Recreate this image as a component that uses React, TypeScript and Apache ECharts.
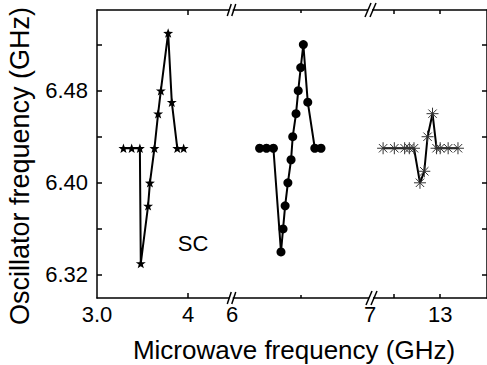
import React, { useEffect, useRef } from "react";
import * as echarts from "echarts";

// ---- data ----
const starX = [3.29, 3.38, 3.47, 3.48, 3.56, 3.58, 3.63, 3.67, 3.70, 3.78, 3.82, 3.88, 3.95];
const starY = [6.43, 6.43, 6.43, 6.33, 6.38, 6.40, 6.43, 6.46, 6.48, 6.53, 6.47, 6.43, 6.43];

const circleX = [6.20, 6.25, 6.30, 6.355, 6.37, 6.385, 6.405, 6.428, 6.44, 6.464, 6.48, 6.498, 6.517, 6.549, 6.60, 6.645];
const circleY = [6.43, 6.43, 6.43, 6.34, 6.36, 6.38, 6.40, 6.42, 6.44, 6.46, 6.48, 6.50, 6.52, 6.47, 6.43, 6.43];

const asterX = [12.39, 12.51, 12.62, 12.67, 12.72, 12.784, 12.83, 12.865, 12.918, 12.961, 13.0, 13.085, 13.19];
const asterY = [6.43, 6.43, 6.43, 6.43, 6.43, 6.40, 6.41, 6.44, 6.46, 6.43, 6.43, 6.43, 6.43];

const seg1Range = [3.0, 4.48];
const seg2Range = [6.0, 7.0];
const seg3Range = [12.25, 13.5];
const seg1Ticks = [4];
const seg1Labels = [3.0, 4];
const seg2Ticks = [6.5];
const seg2Labels = [6, 7];
const seg3Ticks = [12.5, 13];
const seg3Labels = [13];

const yRange = [6.30, 6.55];
const yTicks = [6.32, 6.36, 6.40, 6.44, 6.48, 6.52];
const yLabels = [6.32, 6.40, 6.48];

const xTitle = "Microwave frequency (GHz)";
const yTitle = "Oscillator frequency (GHz)";
const annotation = "SC";

const FONT = "'Liberation Sans', Arial, Helvetica, sans-serif";

const STAR =
  "path://M0,-10L2.35,-3.24L9.51,-3.09L3.8,1.24L5.88,8.09L0,4.3L-5.88,8.09L-3.8,1.24L-9.51,-3.09L-2.35,-3.24Z";
const ASTER = "path://M0,5L10,5M5,0L5,10M1.5,1.5L8.5,8.5M1.5,8.5L8.5,1.5";

const zip = (xs: number[], ys: number[]) => xs.map((x, i) => [x, ys[i]]);

function xAxes(gridIndex: number, range: number[], ticks: number[], labels: number[], tickLen: number, fmt: (v: number) => string) {
  const common = {
    type: "value",
    gridIndex,
    min: range[0],
    max: range[1],
    splitLine: { show: false },
    axisLine: { show: true, onZero: false, lineStyle: { color: "#000", width: 1.5 } },
    axisTick: { show: true, inside: true, length: tickLen, customValues: ticks, lineStyle: { color: "#000", width: 1.5 } },
  };
  return [
    {
      ...common,
      position: "bottom",
      axisLabel: { show: true, customValues: labels, formatter: fmt, color: "#000", fontSize: 22, fontFamily: FONT, margin: 5 },
    },
    { ...common, position: "top", axisLabel: { show: false } },
  ];
}

function breakMark(cx: number, cy: number, wide: boolean) {
  const dx = wide ? 6 : 4;
  const h = wide ? 7 : 6;
  const gap = wide ? 4 : 3.5;
  return [
    { type: "rect", shape: { x: cx - gap / 2 - 1, y: cy - 2, width: gap, height: 4 }, style: { fill: "#fff" }, z: 100 },
    { type: "line", shape: { x1: cx - gap / 2 - dx / 2 - 1, y1: cy + h, x2: cx - gap / 2 + dx / 2 - 1, y2: cy - h }, style: { stroke: "#000", lineWidth: 1.5 }, z: 101 },
    { type: "line", shape: { x1: cx + gap / 2 - dx / 2, y1: cy + h, x2: cx + gap / 2 + dx / 2, y2: cy - h }, style: { stroke: "#000", lineWidth: 1.5 }, z: 101 },
  ];
}

export default function App() {
  const ref = useRef<HTMLDivElement>(null);
  useEffect(() => {
    document.body.style.margin = "0";
    if (!ref.current) return;
    const chart = echarts.init(ref.current, null, { renderer: "svg" });
    const top = 10;
    const height = 288;
    const yCommon = {
      type: "value",
      min: yRange[0],
      max: yRange[1],
      splitLine: { show: false },
    };
    const option: any = {
      animation: false,
      backgroundColor: "#fff",
      grid: [
        { left: 97, top, width: 135, height },
        { left: 232, top, width: 138, height },
        { left: 370, top, width: 118, height },
      ],
      xAxis: [
        ...xAxes(0, seg1Range, seg1Ticks, seg1Labels, 5, (v: number) => (v === 3 ? "3.0" : String(v))),
        ...xAxes(1, seg2Range, seg2Ticks, seg2Labels, 3, (v: number) => String(v)),
        ...xAxes(2, seg3Range, seg3Ticks, seg3Labels, 4, (v: number) => String(v)),
      ],
      yAxis: [
        {
          ...yCommon,
          gridIndex: 0,
          position: "left",
          axisLine: { show: true, onZero: false, lineStyle: { color: "#000", width: 1.5 } },
          axisTick: { show: true, inside: true, length: 5, customValues: yTicks, lineStyle: { color: "#000", width: 1.5 } },
          axisLabel: {
            show: true,
            customValues: yLabels,
            formatter: (v: number) => v.toFixed(2),
            color: "#000",
            fontSize: 22,
            fontFamily: FONT,
            margin: 9,
          },
        },
        { ...yCommon, gridIndex: 1, show: false },
        {
          ...yCommon,
          gridIndex: 2,
          position: "right",
          axisLine: { show: true, onZero: false, lineStyle: { color: "#000", width: 1.5 } },
          axisTick: { show: true, inside: true, length: 5, customValues: yTicks, lineStyle: { color: "#000", width: 1.5 } },
          axisLabel: { show: false },
        },
      ],
      series: [
        {
          type: "line",
          xAxisIndex: 0,
          yAxisIndex: 0,
          data: zip(starX, starY),
          symbol: STAR,
          symbolSize: 10,
          symbolKeepAspect: true,
          lineStyle: { color: "#000", width: 2 },
          itemStyle: { color: "#000" },
          silent: true,
        },
        {
          type: "line",
          xAxisIndex: 2,
          yAxisIndex: 1,
          data: zip(circleX, circleY),
          symbol: "circle",
          symbolSize: 9,
          lineStyle: { color: "#000", width: 2 },
          itemStyle: { color: "#000" },
          silent: true,
        },
        {
          type: "line",
          xAxisIndex: 4,
          yAxisIndex: 2,
          data: zip(asterX, asterY),
          symbol: ASTER,
          symbolSize: 12,
          lineStyle: { color: "#000", width: 2 },
          itemStyle: { color: "rgba(0,0,0,0)", borderColor: "#333", borderWidth: 1 },
          silent: true,
        },
      ],
      graphic: [
        ...breakMark(232, 298, false),
        ...breakMark(372, 298, true),
        ...breakMark(232, 10, false),
        ...breakMark(371, 10, true),
        {
          type: "text",
          x: 193,
          y: 243,
          style: { text: annotation, font: `22px ${FONT}`, fill: "#000", textAlign: "center", textVerticalAlign: "middle" },
        },
        {
          type: "text",
          x: 294,
          y: 350,
          style: { text: xTitle, font: `26px ${FONT}`, fill: "#000", textAlign: "center", textVerticalAlign: "middle" },
        },
        {
          type: "text",
          x: 20,
          y: 166,
          rotation: Math.PI / 2,
          style: { text: yTitle, font: `27px ${FONT}`, fill: "#000", textAlign: "center", textVerticalAlign: "middle" },
        },
      ],
    };
    chart.setOption(option);
    return () => chart.dispose();
  }, []);
  return <div ref={ref} style={{ position: "absolute", left: 0, top: 0, width: 487, height: 365 }} />;
}
